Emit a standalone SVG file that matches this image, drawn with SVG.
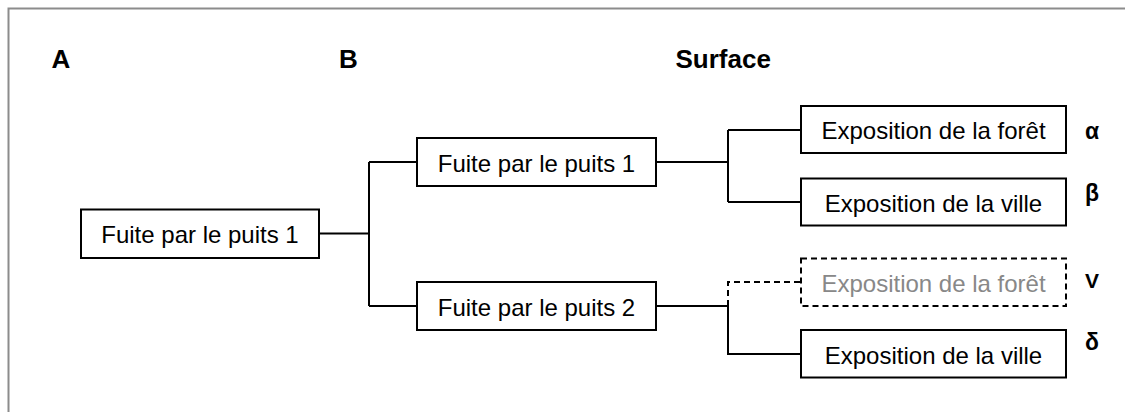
<svg xmlns="http://www.w3.org/2000/svg" width="1125" height="412" viewBox="0 0 1125 412">
<style>
.box{fill:#fff;stroke:#000;stroke-width:2}
.dbox{fill:#fff;stroke:#000;stroke-width:2;stroke-dasharray:6,4}
.t{font-family:"Liberation Sans",Arial,sans-serif;font-size:24px;fill:#000;text-anchor:middle}
.tg{fill:#888}
.h{font-family:"Liberation Sans",Arial,sans-serif;font-size:26px;font-weight:bold;fill:#000}
.g{font-family:"Liberation Sans",Arial,sans-serif;font-size:23px;font-weight:bold;fill:#000}
.c{fill:none;stroke:#000;stroke-width:2}
.cd{fill:none;stroke:#000;stroke-width:2;stroke-dasharray:6,4}
</style>
<rect x="0" y="0" width="1125" height="412" fill="#fff"/>
<path d="M8.5,412 V8.5 H1125" fill="none" stroke="#8c8c8c" stroke-width="2"/>
<g id="headings">
<text class="h" x="51.5" y="67.5">A</text>
<text class="h" x="339" y="67.5">B</text>
<text class="h" x="675.5" y="67.5">Surface</text>
</g>
<g id="connectors">
<path class="c" d="M319,233.5 H369 M369,162 V306 M369,162 H417 M369,306 H417"/>
<path class="c" d="M656,162 H728 M728,130 V202 M728,130 H801 M728,202 H801"/>
<path class="c" d="M656,306 H728 V354 H801"/>
<path class="cd" d="M728,306 V282 H801"/>
</g>
<g id="nodeA">
<rect class="box" x="81" y="209.5" width="238" height="48.5"/>
<text class="t" x="200" y="243">Fuite par le puits 1</text>
</g>
<g id="nodeB1">
<rect class="box" x="417" y="138" width="239" height="48"/>
<text class="t" x="536.5" y="171.5">Fuite par le puits 1</text>
</g>
<g id="nodeB2">
<rect class="box" x="417" y="282" width="239" height="48"/>
<text class="t" x="536.5" y="315.5">Fuite par le puits 2</text>
</g>
<g id="nodeAlpha">
<rect class="box" x="801" y="106" width="265" height="47"/>
<text class="t" x="933.5" y="139">Exposition de la forêt</text>
<text class="g" x="1085" y="139">α</text>
</g>
<g id="nodeBeta">
<rect class="box" x="801" y="178.5" width="265" height="47"/>
<text class="t" x="933.5" y="211.5">Exposition de la ville</text>
<text class="g" x="1085" y="201">β</text>
</g>
<g id="nodeGamma">
<rect class="dbox" x="801" y="258.5" width="265" height="47.5"/>
<text class="t tg" x="933.5" y="291.5">Exposition de la forêt</text>
<text class="g" x="1085" y="288.3" style="font-size:21px">V</text>
</g>
<g id="nodeDelta">
<rect class="box" x="801" y="330" width="265" height="47.5"/>
<text class="t" x="933.5" y="363.5">Exposition de la ville</text>
<text class="g" x="1085" y="350">δ</text>
</g>
</svg>
